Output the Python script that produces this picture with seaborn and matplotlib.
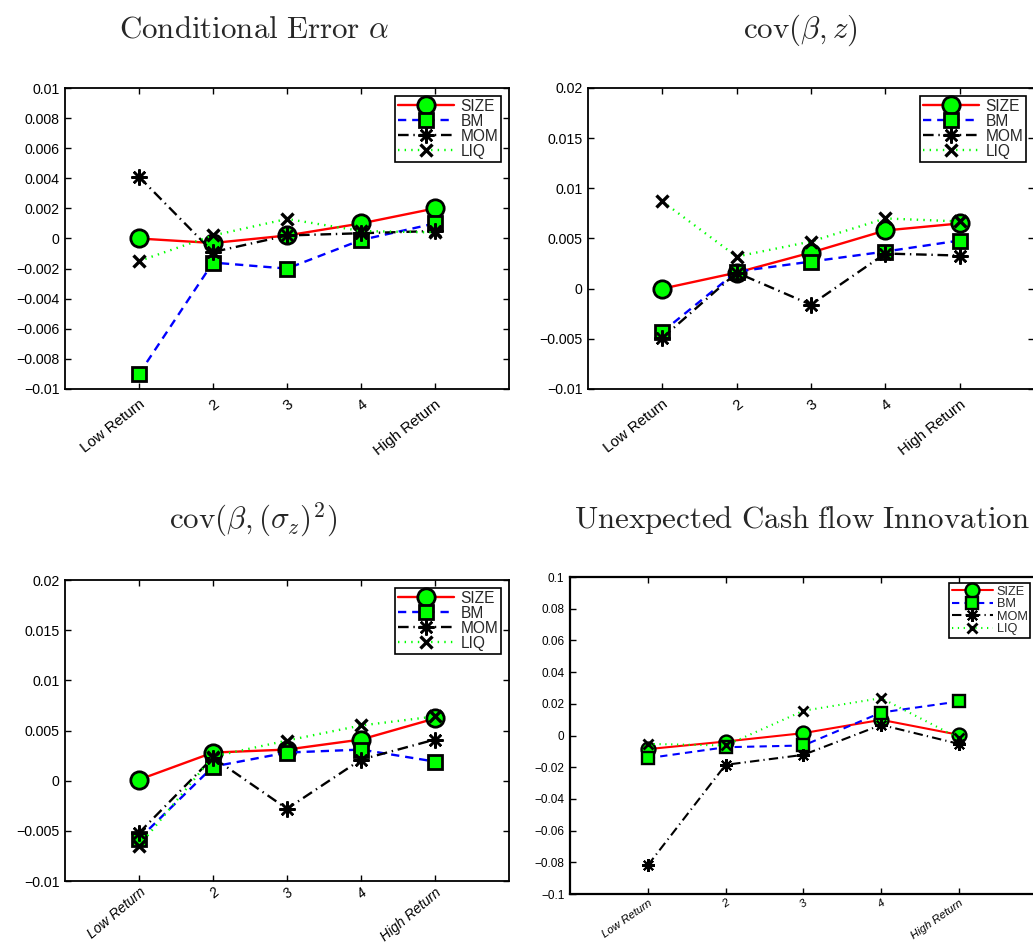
import numpy as np
import pandas as pd
import matplotlib
matplotlib.use("Agg")
import matplotlib.pyplot as plt
import seaborn as sns

sns.set_theme(style="white")
plt.rcParams['font.family'] = ['Liberation Sans', 'DejaVu Sans']
plt.rcParams['mathtext.fontset'] = 'cm'

# ---------------- data ----------------
positions = [1, 2, 3, 4, 5]
tick_labels = ["Low Return", "2", "3", "4", "High Return"]
series_names = ["SIZE", "BM", "MOM", "LIQ"]

alpha_size = [0.0, -0.0003, 0.0002, 0.0010, 0.0020]
alpha_bm = [-0.0090, -0.0016, -0.0020, -0.0001, 0.0010]
alpha_mom = [0.0041, -0.0009, 0.0002, 0.00035, 0.0005]
alpha_liq = [-0.0015, 0.0002, 0.0013, 0.0005, 0.0004]

covz_size = [0.0, 0.0016, 0.0036, 0.0058, 0.0065]
covz_bm = [-0.0043, 0.0017, 0.0027, 0.0037, 0.0048]
covz_mom = [-0.0049, 0.0016, -0.0016, 0.0035, 0.0033]
covz_liq = [0.0087, 0.0032, 0.0047, 0.0070, 0.0067]

covs_size = [0.0001, 0.0028, 0.0031, 0.0041, 0.0062]
covs_bm = [-0.0058, 0.0014, 0.0028, 0.0031, 0.0019]
covs_mom = [-0.0052, 0.0023, -0.0028, 0.0021, 0.0041]
covs_liq = [-0.0065, 0.0024, 0.0040, 0.0055, 0.0064]

cf_size = [-0.0086, -0.0038, 0.0015, 0.0099, 0.0004]
cf_bm = [-0.0143, -0.0074, -0.0063, 0.0145, 0.0215]
cf_mom = [-0.0819, -0.0185, -0.0122, 0.0067, -0.0053]
cf_liq = [-0.0053, -0.0063, 0.0156, 0.0236, -0.0017]

titles = [r"$\mathrm{Conditional\ Error}\ \alpha$",
          r"$\mathrm{cov}(\beta, z)$",
          r"$\mathrm{cov}(\beta, (\sigma_z)^2)$",
          r"$\mathrm{Unexpected\ Cash\ flow\ Innovation}$"]

ylims = [(-0.01, 0.01), (-0.01, 0.02), (-0.01, 0.02), (-0.1, 0.1)]
yticks = [np.round(np.arange(-0.01, 0.0101, 0.002), 3),
          np.round(np.arange(-0.01, 0.0201, 0.005), 3),
          np.round(np.arange(-0.01, 0.0201, 0.005), 3),
          np.round(np.arange(-0.1, 0.101, 0.02), 2)]

panels = [
    [alpha_size, alpha_bm, alpha_mom, alpha_liq],
    [covz_size, covz_bm, covz_mom, covz_liq],
    [covs_size, covs_bm, covs_mom, covs_liq],
    [cf_size, cf_bm, cf_mom, cf_liq],
]

# ---------------- styles ----------------
GREEN = "#00ff00"
styles = {
    "SIZE": dict(color="red", marker="o", mfc=GREEN, mec="black", ms=12.5, mew=2.0),
    "BM": dict(color="blue", dashes=(3.5, 2.5), marker="s", mfc=GREEN, mec="black", ms=10.5, mew=2.0),
    "MOM": dict(color="black", dashes=(4.5, 2.0, 0.6, 2.0), marker=(8, 2, 0), mfc="black", mec="black", ms=11.5, mew=1.8),
    "LIQ": dict(color=GREEN, dashes=(0.6, 2.2), marker="x", mfc="black", mec="black", ms=9, mew=2.4),
}

fig = plt.figure(figsize=(10.33, 9.46), dpi=100)

# (left, bottom, width, height) in figure fraction
axes_pos = [
    (65 / 1033, (946 - 389) / 946, 444 / 1033, 301 / 946),
    (588 / 1033, (946 - 389) / 946, 446 / 1033, 301 / 946),
    (65 / 1033, (946 - 881) / 946, 444 / 1033, 301 / 946),
    (570 / 1033, (946 - 894) / 946, 490 / 1033, 317 / 946),
]
xmax = [6, 6, 6, 490 / 77.8]
xlab_rot = [38, 38, 40, 35]
xlab_size = [10.8, 10.8, 10.0, 8.2]
xlab_pad = [6, 6, 3, 3]
title_pos = [(254, 30), (800, 30), (253, 520), (802, 520)]

for i, (pos, data) in enumerate(zip(axes_pos, panels)):
    ax = fig.add_axes(pos)
    small = (i == 3)
    scale = 0.8 if small else 1.0
    for name, vals in zip(series_names, data):
        st = dict(styles[name])
        df = pd.DataFrame({"x": positions, "y": vals})
        kw = dict(color=st["color"], marker=st["marker"], markerfacecolor=st["mfc"],
                  markeredgecolor=st["mec"], markersize=st["ms"] * scale,
                  markeredgewidth=st["mew"] * (0.85 if small else 1.0),
                  linewidth=1.7 if not small else 1.5)
        sns.lineplot(data=df, x="x", y="y", ax=ax, sort=False, label=name, **kw)
        line = ax.lines[-1]
        if "dashes" in st:
            line.set_dashes(st["dashes"])
        else:
            line.set_linestyle("-")
    ax.set_xlim(0, xmax[i])
    ax.set_ylim(*ylims[i])
    ax.set_xticks(positions)
    ax.set_xticklabels(tick_labels, rotation=xlab_rot[i], ha="right", rotation_mode="anchor",
                       fontsize=xlab_size[i],
                       style="italic" if i >= 2 else "normal")
    ax.set_yticks(yticks[i])
    ax.set_yticklabels([("0" if abs(v) < 1e-12 else ("%g" % v).replace("-", "\u2212")) for v in yticks[i]],
                       fontsize=8.5 if small else 10.2)
    ax.set_xlabel("")
    ax.set_ylabel("")
    ax.tick_params(direction="in", length=4, width=1, top=True, right=True,
                   bottom=True, left=True, pad=4, colors="black")
    ax.tick_params(axis="x", pad=xlab_pad[i])
    for sp in ax.spines.values():
        sp.set_visible(True)
        sp.set_color("black")
        sp.set_linewidth(1.3 if not small else 1.6)
    ax.grid(False)
    ax.set_facecolor("white")
    if small:
        leg = ax.legend(loc="upper right", bbox_to_anchor=(1030 / 1033, 1 - 583 / 946),
                        bbox_transform=fig.transFigure, fontsize=9.2,
                        frameon=True, fancybox=False, edgecolor="black", framealpha=1,
                        handlelength=3.2, handletextpad=0.3,
                        borderpad=0.2, labelspacing=0.05, borderaxespad=0.0)
    else:
        leg = ax.legend(loc="upper right", fontsize=11.2,
                        frameon=True, fancybox=False, edgecolor="black", framealpha=1,
                        handlelength=3.6, handletextpad=0.4,
                        borderpad=0.2, labelspacing=0.0, borderaxespad=0.5)
    leg.get_frame().set_linewidth(1.2)
    fx, fy = title_pos[i]
    fig.text(fx / 1033, 1 - fy / 946, titles[i], ha="center", va="center", fontsize=22.3)

fig.savefig("out.png", dpi=100)
